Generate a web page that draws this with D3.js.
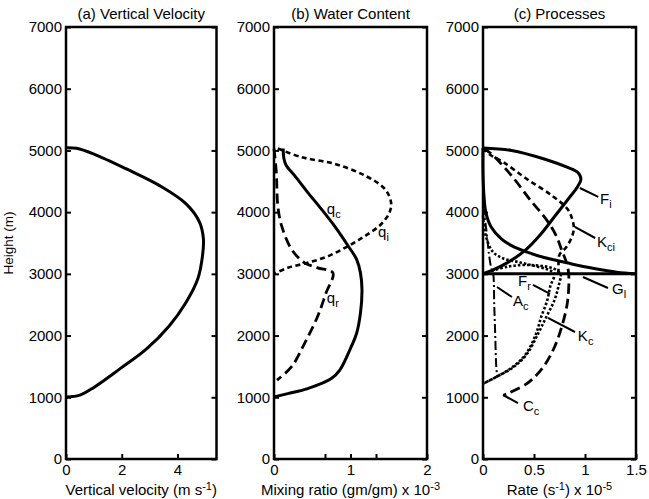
<!DOCTYPE html>
<html lang="en">
<head>
<meta charset="utf-8">
<title>Vertical velocity, water content and processes</title>
<script src="https://d3js.org/d3.v7.min.js"></script>
<style>
body{margin:0;background:#fff}
svg{font-family:"Liberation Sans",Arial,Helvetica,sans-serif}
</style>
</head>
<body>
<div id="chart"></div>
<script>
// y ticks shared by all three panels
var heightTicks = [0,1000,2000,3000,4000,5000,6000,7000]

// (a) vertical velocity profile (m s-1)
var wHeight = [1005,1035,1160,1460,1780,2160,2540,2920,3300,3570,3840,4135,4430,4700,4945,5035,5045]
var wSpeed  = [0,0.5,1.0,1.93,2.88,3.71,4.31,4.73,4.9,4.93,4.79,4.31,3.36,2.17,0.98,0.38,0]

// (b) mixing ratios x 10-3
var qcHeight = [5030,4864,4755,4592,4321,4049,3777,3451,3234,3016,2745,2364,2038,1821,1440,1304,1141,1060,1005]
var qcValue  = [0.12,0.13,0.16,0.27,0.44,0.62,0.79,0.97,1.08,1.13,1.15,1.13,1.08,1.01,0.86,0.75,0.44,0.18,0]
var qiHeight = [5030,4891,4783,4592,4375,4158,3995,3804,3614,3451,3288,3179,3098,3000]
var qiValue  = [0.05,0.36,0.79,1.19,1.45,1.53,1.51,1.40,1.19,0.97,0.71,0.44,0.18,0]
var qrHeight = [5030,4647,4103,3777,3397,3179,3098,3016,2690,2310,1875,1495,1277]
var qrValue  = [0,0.03,0.05,0.1,0.23,0.4,0.57,0.77,0.68,0.57,0.40,0.23,0.04]

// (c) process rates x 10-5
var fiHeight = [5040,5000,4862,4725,4642,4532,4421,4201,3926,3650,3375,3182,3072,3000]
var fiRate   = [0,0.28,0.60,0.83,0.93,0.96,0.93,0.83,0.70,0.57,0.41,0.24,0.11,0]
var glHeight = [5040,4640,4256,3981,3760,3567,3457,3347,3264,3165,3088,3028,3000]
var glRate   = [0,0,0.01,0.03,0.08,0.18,0.28,0.44,0.60,0.86,1.09,1.31,1.5]
var glBaseHeight = [3000,3000]
var glBaseRate   = [1.5,0]
var kciHeight = [5040,4930,4809,4537,4264,4046,3856,3719,3556,3420,3311,3150,3000]
var kciRate   = [0,0.07,0.2,0.43,0.68,0.83,0.88,0.89,0.86,0.81,0.75,0.74,0.74]
var ccHeight = [5040,4946,4591,4183,3883,3610,3392,3174,3000,2565,2189,1811,1489,1221,1032]
var ccRate   = [0,0.08,0.28,0.47,0.62,0.72,0.77,0.82,0.84,0.83,0.78,0.70,0.59,0.43,0.2]
var frHeight = [3950,3600,3350,3250,3190,3130,3060,3000,2800,2570,2300,2030,1700,1490,1330,1220]
var frRate   = [0,0.03,0.1,0.2,0.35,0.5,0.65,0.7,0.66,0.63,0.57,0.52,0.42,0.29,0.13,0]
var kcHeight = [3000,3120,3140,3080,3000,2800,2570,2300,2030,1700,1490,1330,1220]
var kcRate   = [0,0.25,0.5,0.7,0.76,0.74,0.70,0.62,0.54,0.43,0.30,0.13,0]
var acHeight = [4100,3750,3300,3100,3000,2500,2000,1500,1320]
var acRate   = [0,0.03,0.06,0.08,0.1,0.11,0.12,0.13,0.14]

// line styles
var solid = {dash:null, width:3}
var shortDash = {dash:"5,3.5", width:2.6}
var longDash = {dash:"10,5", width:2.8}
var dotted = {dash:"2.5,2", width:2.6}
var dashDot = {dash:"9,3,2,3", width:2}

var panels = [
    {title:"(a) Vertical Velocity", left:66, right:216.5, xMax:5.4,
     xTicks:[0,2,4], xMinor:[],
     xLabel:[["Vertical velocity (m s",0],["-1",1],[")",0]],
     series:[{h:wHeight, v:wSpeed, style:solid}],
     notes:[]},
    {title:"(b) Water Content", left:274, right:427, xMax:2,
     xTicks:[0,1,2], xMinor:[2/3,4/3],
     xLabel:[["Mixing ratio (gm/gm) x 10",0],["-3",1]],
     series:[
        {h:qcHeight, v:qcValue, style:solid},
        {h:qiHeight, v:qiValue, style:shortDash},
        {h:qrHeight, v:qrValue, style:longDash}],
     notes:[
        {t:"q", s:"c", x:0.69, y:3970},
        {t:"q", s:"i", x:1.36, y:3597},
        {t:"q", s:"r", x:0.69, y:2528}]},
    {title:"(c) Processes", left:483, right:636, xMax:1.5,
     xTicks:[0,0.5,1,1.5], xMinor:[],
     xLabel:[["Rate (s",0],["-1",1],[") x 10",0],["-5",1]],
     series:[
        {h:fiHeight, v:fiRate, style:solid},
        {h:glHeight, v:glRate, style:solid},
        {h:glBaseHeight, v:glBaseRate, style:solid, linear:true},
        {h:kciHeight, v:kciRate, style:shortDash},
        {h:ccHeight, v:ccRate, style:longDash},
        {h:frHeight, v:frRate, style:dotted},
        {h:kcHeight, v:kcRate, style:dotted},
        {h:acHeight, v:acRate, style:dashDot}],
     notes:[
        {t:"F", s:"i", x:1.147, y:4132, line:[0.95,4391,1.13,4246]},
        {t:"K", s:"ci", x:1.118, y:3435, line:[0.90,3760,1.10,3581]},
        {t:"G", s:"l", x:1.265, y:2674, line:[0.98,2949,1.225,2771]},
        {t:"F", s:"r", x:0.343, y:2803, line:[0.49,2820,0.657,2674]},
        {t:"A", s:"c", x:0.294, y:2479, line:[0.137,2787,0.284,2625]},
        {t:"K", s:"c", x:0.93, y:1912, line:[0.637,2285,0.902,2058]},
        {t:"C", s:"c", x:0.392, y:778, line:[0.196,1037,0.343,907]}]}
]

var w = 649
var h = 499
var plotTop = 27
var plotBottom = 459
var fs = 15

var svg = d3.select("#chart")
    .append("svg")
    .attr("width", w)
    .attr("height", h)

var yScale = d3.scaleLinear()
    .domain([0,7000])
    .range([plotBottom, plotTop])

// y axis title
svg.append("text")
    .attr("transform", "translate(13," + ((plotTop+plotBottom)/2) + ") rotate(-90)")
    .attr("text-anchor", "middle")
    .style("font-size", "13.5px")
    .text("Height (m)")

panels.forEach(function(p){
    var xScale = d3.scaleLinear()
        .domain([0, p.xMax])
        .range([p.left, p.right])

    var g = svg.append("g")

    //ticks point inward
    var left = g.append("g")
        .attr("transform", "translate(" + p.left + ",0)")
        .call(d3.axisLeft(yScale).tickValues(heightTicks).tickSize(-5).tickPadding(4)
            .tickFormat(d3.format("d")))
    var right = g.append("g")
        .attr("transform", "translate(" + p.right + ",0)")
        .call(d3.axisRight(yScale).tickValues(heightTicks).tickSize(-5).tickFormat(""))
    var bot = g.append("g")
        .attr("transform", "translate(0," + plotBottom + ")")
        .call(d3.axisBottom(xScale).tickValues(p.xTicks).tickSize(-5).tickPadding(5)
            .tickFormat(d3.format("~g")))
    var minor = g.append("g")
        .attr("transform", "translate(0," + plotBottom + ")")
        .call(d3.axisBottom(xScale).tickValues(p.xMinor).tickSize(-5).tickFormat(""))

    ;[left, right, bot, minor].forEach(function(a){
        a.select(".domain").remove()
        a.selectAll("line").attr("stroke", "#000").attr("stroke-width", 2)
        a.selectAll("text").attr("fill", "#000").style("font-size", fs + "px")
            .attr("font-family", null)
    })

    // frame
    g.append("rect")
        .attr("x", p.left)
        .attr("y", plotTop)
        .attr("width", p.right - p.left)
        .attr("height", plotBottom - plotTop)
        .attr("fill", "none")
        .attr("stroke", "#000")
        .attr("stroke-width", 2.5)

    g.append("text")
        .attr("x", (p.left + p.right)/2)
        .attr("y", 19)
        .attr("text-anchor", "middle")
        .style("font-size", fs + "px")
        .text(p.title)

    var xl = g.append("text")
        .attr("x", (p.left + p.right)/2)
        .attr("y", 490)
        .attr("text-anchor", "middle")
        .style("font-size", fs + "px")
    p.xLabel.forEach(function(part){
        xl.append("tspan")
            .attr("dy", part[1] ? -5 : (xl.node().childNodes.length ? 5 : 0))
            .style("font-size", part[1] ? "11px" : fs + "px")
            .text(part[0])
    })

    // curves
    p.series.forEach(function(s){
        var pts = s.h.map(function(d,i){ return [s.v[i], d] })
        var line = d3.line()
            .x(function(d){ return xScale(d[0]) })
            .y(function(d){ return yScale(d[1]) })
            .curve(s.linear ? d3.curveLinear : d3.curveCatmullRom.alpha(0.5))
        g.append("path")
            .attr("d", line(pts))
            .attr("fill", "none")
            .attr("stroke", "#000")
            .attr("stroke-width", s.style.width)
            .attr("stroke-dasharray", s.style.dash)
            .attr("stroke-linejoin", "round")
    })

    // curve labels
    p.notes.forEach(function(n){
        if(n.line){
            g.append("line")
                .attr("x1", xScale(n.line[0])).attr("y1", yScale(n.line[1]))
                .attr("x2", xScale(n.line[2])).attr("y2", yScale(n.line[3]))
                .attr("stroke", "#000")
                .attr("stroke-width", 2)
        }
        var t = g.append("text")
            .attr("x", xScale(n.x))
            .attr("y", yScale(n.y))
            .style("font-size", fs + "px")
            .text(n.t)
        t.append("tspan")
            .attr("dy", 4)
            .style("font-size", "11px")
            .text(n.s)
    })
})
</script>
</body>
</html>
